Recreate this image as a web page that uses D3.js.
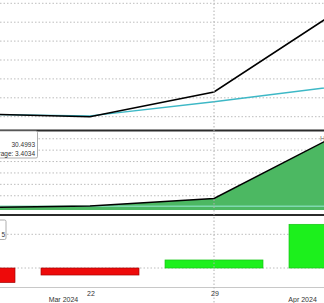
<!DOCTYPE html>
<html>
<head>
<meta charset="utf-8">
<script src="https://cdn.jsdelivr.net/npm/d3@7"></script>
<style>
  body { margin: 0; background: #fff; }
  svg { display: block; }
  text { font-family: "Liberation Sans", sans-serif; fill: #333; }
</style>
</head>
<body>
<svg id="chart" width="324" height="303"></svg>
<script>
// weekly data
let dates = ["2024-03-15", "2024-03-22", "2024-03-29", "2024-04-05"]
let priceValues = [11.6, 10.0, 23.1, 66.0]
let avgValues = [11.4, 10.4, 17.9, 26.1]
let cumValues = [-2, 4, 30.4993, 255]
let cumAverage = 3.4034
let barValues = [-2.15, -1.04, 1.19, 6.48]
let topGrid = [10, 20, 30, 40, 50, 60, 70]
let midGrid = [40, 80, 120, 160, 200, 240]
let lowGrid = [0, 5]
let dayTicks = ["2024-03-22", "2024-03-29"]
let monthLabels = [["2024-03-20T12:00:00Z", "Mar 2024"], ["2024-04-03T00:00:00Z", "Apr 2024"]]
let cursorDate = "2024-03-29"
let tooltipLines = ["30.4993", "Average: 3.4034"]

let W = 324, H = 303
let parse = s => new Date(s.length > 10 ? s : s + "T00:00:00Z")
let D = dates.map(parse)

let svg = d3.select("#chart")

let x = d3.scaleUtc().domain([D[0], D[3]]).range([-34, 338])
let yTop = d3.scaleLinear().domain([10, 70]).range([116.7, 3.3])
let yMid = d3.scaleLinear().domain([-10, 250]).range([210, 135.9])
let yLow = d3.scaleLinear().domain([0, 5]).range([268, 234.3])

function hgrid(vals, scale) {
    svg.append("g").selectAll("line").data(vals).enter().append("line")
        .attr("x1", 0).attr("x2", W)
        .attr("y1", d => scale(d)).attr("y2", d => scale(d))
        .attr("stroke", "#bdbdbd").attr("stroke-width", 1)
        .attr("stroke-dasharray", "1.5,2")
}

hgrid(topGrid, yTop)
hgrid(midGrid, yMid)
hgrid(lowGrid, yLow)

// top panel lines
let lineTop = d3.line().x((d, i) => x(D[i])).y(d => yTop(d))
svg.append("path").datum(avgValues).attr("d", lineTop)
    .attr("fill", "none").attr("stroke", "#3db8c6").attr("stroke-width", 1.3)
svg.append("path").datum(priceValues).attr("d", lineTop)
    .attr("fill", "none").attr("stroke", "#000").attr("stroke-width", 1.6)

// middle panel area
let area = d3.area().x((d, i) => x(D[i])).y0(yMid(-10)).y1(d => yMid(d))
svg.append("path").datum(cumValues).attr("d", area).attr("fill", "#4cb862")
svg.append("line")
    .attr("x1", 0).attr("x2", W)
    .attr("y1", yMid(cumAverage)).attr("y2", yMid(cumAverage))
    .attr("stroke", "#7fd9b0").attr("stroke-width", 1.5)
svg.append("path").datum(cumValues)
    .attr("d", d3.line().x((d, i) => x(D[i])).y(d => yMid(d)))
    .attr("fill", "none").attr("stroke", "#000").attr("stroke-width", 1.4)
svg.append("text").attr("x", 320).attr("y", 141)
    .style("font-size", "7px").style("fill", "#777").text("H")

// bottom panel bars
let bw = (x(D[1]) - x(D[0])) * 0.79
svg.append("g").selectAll("rect").data(barValues).enter().append("rect")
    .attr("x", (d, i) => x(D[i]) - bw / 2)
    .attr("width", bw)
    .attr("y", d => yLow(Math.max(0, d)))
    .attr("height", d => Math.abs(yLow(d) - yLow(0)))
    .attr("fill", d => d < 0 ? "#ee0a0a" : "#1cf01c")
    .attr("stroke", d => d < 0 ? "#a30000" : "#14c414")
    .attr("stroke-width", 0.7)

// panel separators
svg.append("line").attr("x1", 0).attr("x2", W).attr("y1", 130.5).attr("y2", 130.5)
    .attr("stroke", "#2b2b2b").attr("stroke-width", 2)
svg.append("line").attr("x1", 0).attr("x2", W).attr("y1", 215).attr("y2", 215)
    .attr("stroke", "#2b2b2b").attr("stroke-width", 2)
svg.append("line").attr("x1", 0).attr("x2", W).attr("y1", 287.5).attr("y2", 287.5)
    .attr("stroke", "#c8c8c8").attr("stroke-width", 1)

// crosshair
svg.append("line")
    .attr("x1", x(parse(cursorDate))).attr("x2", x(parse(cursorDate)))
    .attr("y1", 0).attr("y2", H)
    .attr("stroke", "#b0b0b0").attr("stroke-dasharray", "1.5,2")

// x axis labels
svg.append("g").selectAll("text").data(dayTicks).enter().append("text")
    .attr("x", d => x(parse(d)) + 1).attr("y", 295.5)
    .attr("text-anchor", "middle").style("font-size", "7px")
    .text(d => d3.utcFormat("%-d")(parse(d)))
svg.append("g").selectAll("text").data(monthLabels).enter().append("text")
    .attr("x", d => x(parse(d[0]))).attr("y", 302)
    .attr("text-anchor", "middle").style("font-size", "7px")
    .text(d => d[1])

// tooltip box in middle panel
svg.append("rect").attr("x", -2).attr("y", 131).attr("width", 39.5).attr("height", 27)
    .attr("fill", "#fff").attr("stroke", "#999").attr("stroke-width", 0.8).attr("rx", 1.5)
svg.append("g").selectAll("text").data(tooltipLines).enter().append("text")
    .attr("x", 35).attr("y", (d, i) => 147 + i * 8.5)
    .attr("text-anchor", "end").style("font-size", "6.5px")
    .text(d => d)

// label box in bottom panel
svg.append("rect").attr("x", -2).attr("y", 220).attr("width", 8).attr("height", 19.5)
    .attr("fill", "#fff").attr("stroke", "#999").attr("stroke-width", 0.8).attr("rx", 1.5)
svg.append("text").attr("x", 5).attr("y", 237).attr("text-anchor", "end")
    .style("font-size", "6.5px").text("5")
</script>
</body>
</html>
